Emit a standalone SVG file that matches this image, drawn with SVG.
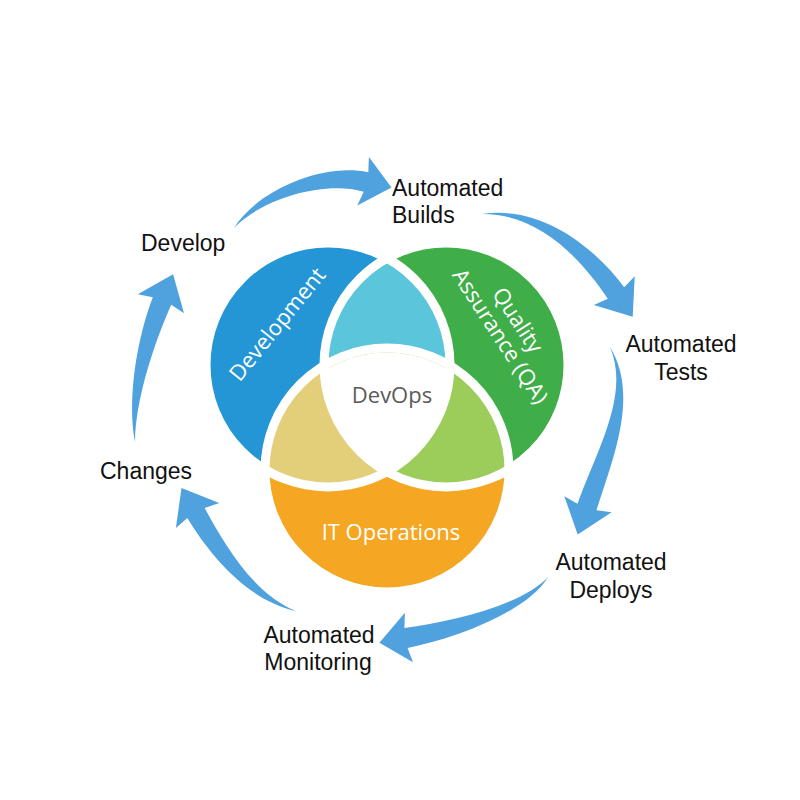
<svg xmlns="http://www.w3.org/2000/svg" width="800" height="800" viewBox="0 0 800 800">
<style>
.arrow{fill:#4fa2de;stroke:none}
.lbl{font-family:"Liberation Sans",Arial,sans-serif;font-size:23px;fill:#111}
.vl{font-family:"Open Sans","Liberation Sans",sans-serif;font-size:22px;fill:#ffffff}
.sep{fill:none;stroke:#ffffff;stroke-width:9}
</style>
<defs>
<clipPath id="clipA"><circle cx="328" cy="365" r="122"/></clipPath>
<clipPath id="clipB"><circle cx="446" cy="365" r="122"/></clipPath>
<clipPath id="clipAB" clip-path="url(#clipA)"><circle cx="446" cy="365" r="122"/></clipPath>
</defs>
<rect width="800" height="800" fill="#ffffff"/>

<g id="connectors">
<path class="arrow" d="M234,228 C255.6,192.2 320.9,162.1 368.3,172.3 L368.9,157 L391.5,187.6 L357.3,205.6 L363.7,191.7 C323.1,179.9 260.4,199.8 234,228 Z"/>
<path class="arrow" d="M482,214 C543.6,204.8 596.8,250.1 624.2,287.3 L634.7,276.2 L632.7,316.7 L593.8,305 L607.8,298.8 C583.3,262 540.4,213.2 482,214 Z"/>
<path class="arrow" d="M610,347 C639.5,395.2 612.9,458.3 596.5,510.2 L611.6,512.2 L577.7,534.5 L564.3,496.2 L577.5,503.8 C596.3,451.3 630.5,394.8 610,347 Z"/>
<path class="arrow" d="M548,577 C527.6,611.7 455.1,638.7 407.6,647.9 L413,662.2 L379.4,642.7 L404.9,612.8 L404.4,628.1 C450.9,621.3 520.4,606.3 548,577 Z"/>
<path class="arrow" d="M296,611 C247.2,600.6 209.4,554.3 187.3,518 L175.9,528.1 L181.5,487.9 L219.2,503.1 L204.7,508 C224.6,544.5 252.8,593.4 296,611 Z"/>
<path class="arrow" d="M135,442 C126.5,396.5 138.1,335.2 152.8,297.2 L137.8,294.2 L173.1,274.2 L184,313.3 L171.2,304.8 C155.3,340.8 135.5,397.5 135,442 Z"/>
</g>

<g id="development">
<circle cx="328" cy="365" r="122" fill="#2496d6"/>
<text class="vl" transform="translate(277,324) rotate(-51)" text-anchor="middle" y="8">Development</text>
</g>
<g id="quality-assurance">
<circle cx="446" cy="365" r="122" fill="#3fae49"/>
<g transform="translate(508,330) rotate(57)">
<text class="vl" text-anchor="middle" x="-3" y="-6">Quality</text>
<text class="vl" text-anchor="middle" x="1" y="17.5">Assurance (QA)</text>
</g>
</g>
<g id="it-operations">
<circle cx="387" cy="470" r="122" fill="#f5a623"/>
<text class="vl" x="391" y="540" text-anchor="middle">IT Operations</text>
</g>
<g id="dev-qa">
<circle cx="446" cy="365" r="122" fill="#5bc5dc" clip-path="url(#clipA)"/>
</g>
<g id="dev-ops">
<circle cx="387" cy="470" r="122" fill="#e3cf7a" clip-path="url(#clipA)"/>
</g>
<g id="qa-ops">
<circle cx="387" cy="470" r="122" fill="#9ccc5a" clip-path="url(#clipB)"/>
</g>
<g id="separators">
<circle class="sep" cx="328" cy="365" r="122"/>
<circle class="sep" cx="446" cy="365" r="122"/>
<circle class="sep" cx="387" cy="470" r="122"/>
</g>
<g id="devops">
<circle cx="387" cy="470" r="117.5" fill="#ffffff" clip-path="url(#clipAB)"/>
<text x="392" y="403" text-anchor="middle" style="font-family:'Open Sans','Liberation Sans',sans-serif;font-size:22px;fill:#5a5a5a">DevOps</text>
</g>

<g id="label-develop"><text class="lbl" x="141" y="251">Develop</text></g>
<g id="label-builds"><text class="lbl" x="392" y="196">Automated</text><text class="lbl" x="392" y="223">Builds</text></g>
<g id="label-tests"><text class="lbl" x="681" y="352" text-anchor="middle">Automated</text><text class="lbl" x="681" y="380" text-anchor="middle">Tests</text></g>
<g id="label-deploys"><text class="lbl" x="611" y="570" text-anchor="middle">Automated</text><text class="lbl" x="611" y="598" text-anchor="middle">Deploys</text></g>
<g id="label-monitoring"><text class="lbl" x="319" y="643" text-anchor="middle">Automated</text><text class="lbl" x="318" y="670" text-anchor="middle">Monitoring</text></g>
<g id="label-changes"><text class="lbl" x="100" y="479">Changes</text></g>
</svg>
